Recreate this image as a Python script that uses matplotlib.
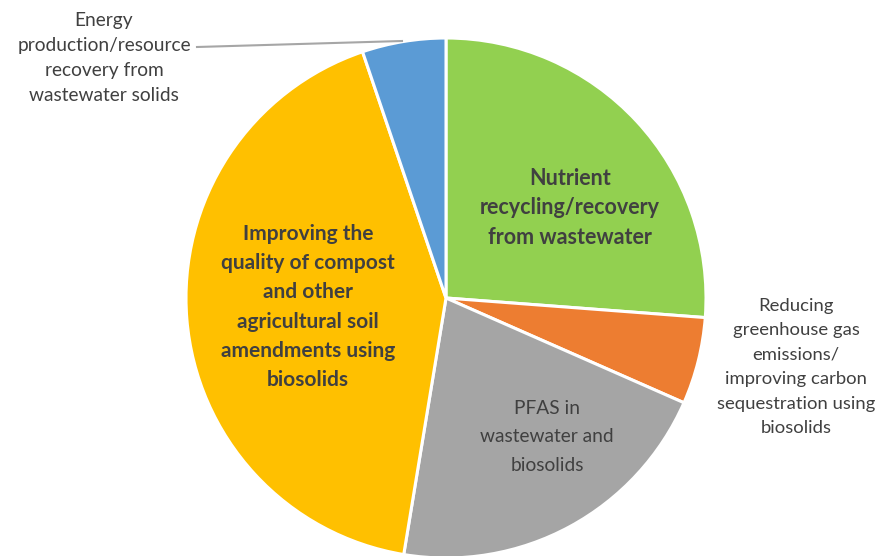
import matplotlib.pyplot as plt

# slice data, clockwise from 12 o'clock
topics = ["Nutrient\nrecycling/recovery\nfrom wastewater",
          "Reducing\ngreenhouse gas\nemissions/\nimproving carbon\nsequestration using\nbiosolids",
          "PFAS in\nwastewater and\nbiosolids",
          "Improving the\nquality of compost\nand other\nagricultural soil\namendments using\nbiosolids",
          "Energy\nproduction/resource\nrecovery from\nwastewater solids"]
shares = [26.2, 5.4, 21.0, 42.2, 5.2]
colors = ["#92D050", "#ED7D31", "#A5A5A5", "#FFC000", "#5B9BD5"]

W, H = 890, 556
fig = plt.figure(figsize=(W / 100, H / 100), dpi=100)
ax = fig.add_axes([0, 0, 1, 1])

cx, cy, r = 446, H - 298, 260
ax.pie(shares, colors=colors, startangle=90, counterclock=False,
       center=(cx, cy), radius=r, frame=True,
       wedgeprops=dict(edgecolor="white", linewidth=2.2))
ax.set_xlim(0, W)
ax.set_ylim(0, H)
ax.set_aspect("equal")
ax.axis("off")

txt = "#404040"
fam = ["Lato", "DejaVu Sans"]
# labels placed in pixel coords (y from top)
spots = [(570, 208, "bold", 15.5, 1.48),
         (796, 367, "normal", 13.3, 1.65),
         (547, 437, "normal", 13.8, 1.8),
         (308, 307, "bold", 15, 1.58),
         (104, 58, "normal", 13.8, 1.55)]
for label, (x, y, w, s, ls) in zip(topics, spots):
    ax.text(x, H - y, label, ha="center", va="center", fontsize=s,
            fontweight=w, color=txt, family=fam, linespacing=ls)

ax.plot([197, 402], [H - 47, H - 41], color="#A6A6A6", lw=1.5)

fig.savefig("out.png", dpi=100)
